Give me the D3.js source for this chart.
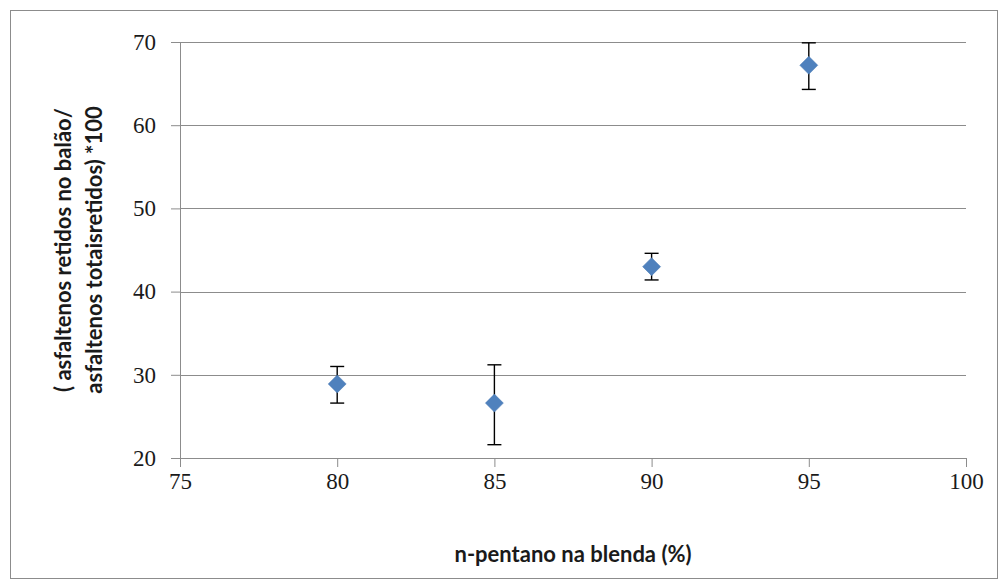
<!DOCTYPE html>
<html>
<head>
<meta charset="utf-8">
<script src="https://cdn.jsdelivr.net/npm/d3@7"></script>
<style>
  html, body { margin: 0; padding: 0; background: #fff; }
  svg { display: block; }
</style>
</head>
<body>
<div id="chart"></div>
<script>
// n-pentano na blenda (%)
const xValues = [80, 85, 90, 95];
const yValues = [28.9, 26.6, 43.0, 67.2];
const errLow = [26.6, 21.6, 41.4, 64.3];
const errHigh = [31.0, 31.2, 44.6, 69.9];
const xTicks = [75, 80, 85, 90, 95, 100];
const yTicks = [20, 30, 40, 50, 60, 70];

const width = 1002, height = 580;
const margin = { top: 42, right: 36, bottom: 122, left: 180 };
const iw = width - margin.left - margin.right;
const ih = height - margin.top - margin.bottom;

const svgRoot = d3.select('#chart').append('svg')
  .attr('width', width).attr('height', height);

svgRoot.append('rect')
  .attr('x', 10.5).attr('y', 10.5)
  .attr('width', width - 15).attr('height', height - 12)
  .attr('fill', '#fff').attr('stroke', '#8c8c8c');

const svg = svgRoot.append('g').attr('transform', `translate(${margin.left},${margin.top})`);

const x = d3.scaleLinear().domain([75, 100]).range([0, iw]);
const y = d3.scaleLinear().domain([20, 70]).range([ih, 0]);

// horizontal gridlines
svg.append('g').selectAll('line')
  .data(yTicks.filter((t) => t > 20))
  .join('line')
  .attr('x1', 0).attr('x2', iw)
  .attr('y1', (d) => Math.round(y(d)) + 0.5).attr('y2', (d) => Math.round(y(d)) + 0.5)
  .attr('stroke', '#8c8c8c');

const yAxis = svg.append('g')
  .call(d3.axisLeft(y).tickValues(yTicks).tickSize(9).tickPadding(15));
const xAxis = svg.append('g')
  .attr('transform', `translate(0,${ih})`)
  .call(d3.axisBottom(x).tickValues(xTicks).tickSize(9).tickPadding(6));

for (const ax of [xAxis, yAxis]) {
  ax.select('.domain').attr('stroke', '#8c8c8c');
  ax.selectAll('.tick line').attr('stroke', '#8c8c8c');
  ax.selectAll('.tick text')
    .attr('fill', '#1a1a1a')
    .style('font-family', '"Liberation Serif", "DejaVu Serif", serif')
    .style('font-size', '23px');
}

// error bars
const errs = svg.append('g').attr('stroke', '#000').attr('stroke-width', 1.4);
xValues.forEach((xv, i) => {
  const cx = x(xv);
  errs.append('line').attr('x1', cx).attr('x2', cx).attr('y1', y(errLow[i])).attr('y2', y(errHigh[i]));
  for (const v of [errLow[i], errHigh[i]]) {
    errs.append('line').attr('x1', cx - 7).attr('x2', cx + 7).attr('y1', y(v)).attr('y2', y(v));
  }
});

// diamond markers
svg.append('g').selectAll('path')
  .data(xValues)
  .join('path')
  .attr('transform', (d, i) => `translate(${x(d)},${y(yValues[i])})`)
  .attr('d', 'M0,-9L9,0L0,9L-9,0Z')
  .attr('fill', '#4f81bd')
  .attr('stroke', '#4a7ab5')
  .attr('stroke-width', 0.5);

// axis titles
const titleFont = 'Lato, "Open Sans", sans-serif';
svgRoot.append('text')
  .attr('x', margin.left + iw / 2)
  .attr('y', 562)
  .attr('text-anchor', 'middle')
  .style('font-family', titleFont).style('font-weight', 'bold').style('font-size', '22px')
  .attr('fill', '#1a1a1a')
  .text('n-pentano na blenda (%)');

const yt = svgRoot.append('text')
  .attr('transform', 'translate(0,250) rotate(-90)')
  .attr('text-anchor', 'middle')
  .style('font-family', titleFont).style('font-weight', 'bold').style('font-size', '22px')
  .attr('fill', '#1a1a1a');
yt.append('tspan').attr('x', 0).attr('y', 71).text('( asfaltenos retidos no balão/');
yt.append('tspan').attr('x', 0).attr('y', 102).text('asfaltenos totaisretidos) *100');
</script>
</body>
</html>
